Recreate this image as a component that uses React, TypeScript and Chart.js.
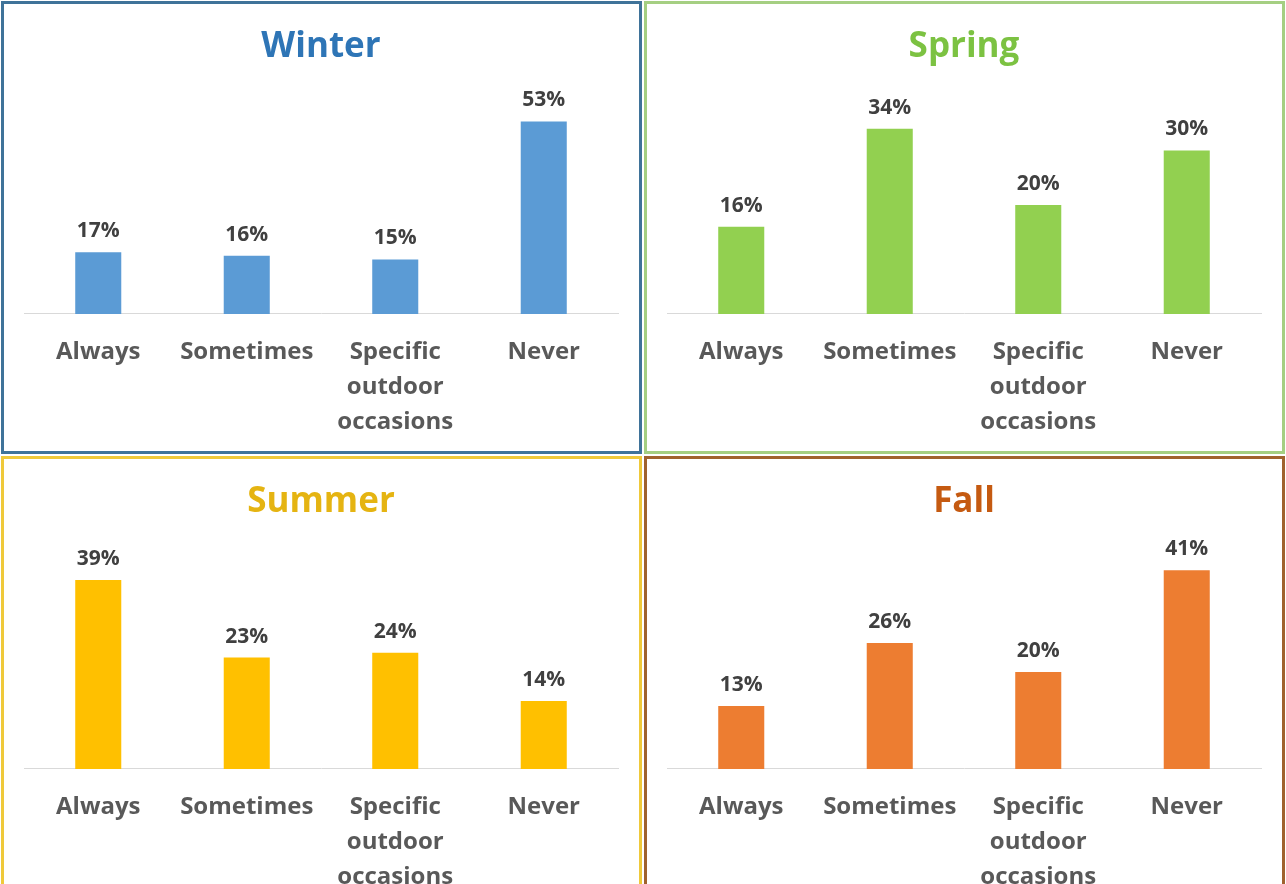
import React, { useEffect, useRef } from "react";
import { Chart, registerables } from "chart.js";

Chart.register(...registerables);

const categories: string[][] = [["Always"], ["Sometimes"], ["Specific", "outdoor", "occasions"], ["Never"]];

const winterValues = [17, 16, 15, 53];
const springValues = [16, 34, 20, 30];
const summerValues = [39, 23, 24, 14];
const fallValues = [13, 26, 20, 41];

const seasonTitles = ["Winter", "Spring", "Summer", "Fall"];
const scaleMax = [60, 40, 45, 45];

const FONT = "'Open Sans', 'Noto Sans', sans-serif";

type PanelSpec = {
  title: string;
  values: number[];
  max: number;
  barColor: string;
  titleColor: string;
  borderColor: string;
  left: number;
  top: number;
  width: number;
};

const valueLabelPlugin = {
  id: "valueLabels",
  afterDatasetsDraw(chart: any) {
    const ctx = chart.ctx;
    const meta = chart.getDatasetMeta(0);
    const data = chart.data.datasets[0].data as number[];
    ctx.save();
    ctx.font = `bold 21px ${FONT}`;
    ctx.fillStyle = "#404040";
    ctx.textAlign = "center";
    ctx.textBaseline = "alphabetic";
    meta.data.forEach((el: any, i: number) => {
      ctx.fillText(`${data[i]}%`, el.x, el.y - 15);
    });
    ctx.restore();
  },
};

function Panel({ spec }: { spec: PanelSpec }) {
  const ref = useRef<HTMLCanvasElement | null>(null);
  useEffect(() => {
    if (!ref.current) return;
    const chart = new Chart(ref.current, {
      type: "bar",
      data: {
        labels: categories,
        datasets: [
          {
            data: spec.values,
            backgroundColor: spec.barColor,
            borderWidth: 0,
            categoryPercentage: 1,
            barPercentage: 0.31,
          },
        ],
      },
      options: {
        animation: false,
        responsive: false,
        devicePixelRatio: 1,
        layout: { padding: { left: 20, right: 21, top: 0, bottom: -10 } },
        plugins: {
          legend: { display: false },
          tooltip: { enabled: false },
          title: {
            display: true,
            text: spec.title,
            color: spec.titleColor,
            font: { family: FONT, size: 35, weight: "bold", lineHeight: 1.2 },
            padding: { top: 22, bottom: 28 },
          },
        },
        scales: {
          x: {
            grid: { display: false, drawTicks: false },
            border: { display: true, color: "#d9d9d9", width: 1 },
            ticks: {
              color: "#595959",
              font: { family: FONT, size: 24, weight: "bold", lineHeight: 1.46 },
              padding: 21,
              maxRotation: 0,
              autoSkip: false,
            },
          },
          y: {
            display: false,
            min: 0,
            max: spec.max,
          },
        },
      },
      plugins: [valueLabelPlugin],
    });
    return () => chart.destroy();
  }, [spec]);

  return (
    <div
      style={{
        position: "absolute",
        left: spec.left,
        top: spec.top,
        width: spec.width,
        height: 453,
        border: `3px solid ${spec.borderColor}`,
        boxSizing: "border-box",
        background: "#ffffff",
      }}
    >
      <canvas ref={ref} width={spec.width - 6} height={447} style={{ display: "block" }} />
    </div>
  );
}

const panels: PanelSpec[] = [
  { title: seasonTitles[0], values: winterValues, max: scaleMax[0], barColor: "#5B9BD5", titleColor: "#2E75B6", borderColor: "#3F7399", left: 1, top: 1, width: 641 },
  { title: seasonTitles[1], values: springValues, max: scaleMax[1], barColor: "#92D050", titleColor: "#7CC242", borderColor: "#A5CF82", left: 644, top: 1, width: 641 },
  { title: seasonTitles[2], values: summerValues, max: scaleMax[2], barColor: "#FFC000", titleColor: "#E5B412", borderColor: "#EFC93A", left: 1, top: 456, width: 641 },
  { title: seasonTitles[3], values: fallValues, max: scaleMax[3], barColor: "#ED7D31", titleColor: "#C55A11", borderColor: "#A0622E", left: 644, top: 456, width: 641 },
];

export default function App() {
  useEffect(() => {
    document.body.style.margin = "0";
  }, []);
  return (
    <div style={{ position: "relative", width: 1286, height: 884, overflow: "hidden", background: "#ffffff" }}>
      {panels.map((p) => (
        <Panel key={p.title} spec={p} />
      ))}
    </div>
  );
}
